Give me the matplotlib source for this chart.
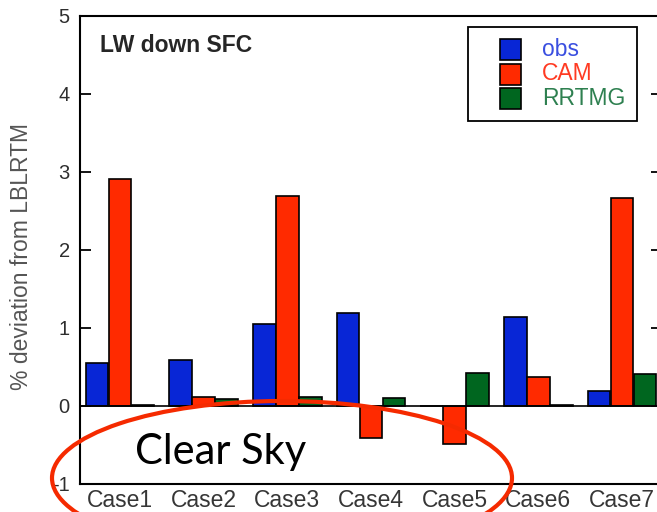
import matplotlib
matplotlib.use("Agg")
import matplotlib.pyplot as plt
from matplotlib.patches import Ellipse, Rectangle
import numpy as np

# ---- data ----
cases = ["Case1", "Case2", "Case3", "Case4", "Case5", "Case6", "Case7"]
series_names = ["obs", "CAM", "RRTMG"]
obs = [0.55, 0.58, 1.05, 1.19, 0.0, 1.14, 0.18]
cam = [2.91, 0.11, 2.69, -0.42, -0.49, 0.36, 2.66]
rrtmg = [0.01, 0.08, 0.11, 0.10, 0.42, 0.01, 0.40]
yticks = [-1, 0, 1, 2, 3, 4, 5]
ylabel = "% deviation from LBLRTM"
title = "LW down SFC"
note = "Clear Sky"

bar_colors = ["#0826d6", "#ff2a00", "#00661f"]
text_colors = ["#3a4fe0", "#ff3a22", "#2e8050"]

W, H = 657, 512
fig = plt.figure(figsize=(W / 100, H / 100), dpi=100)

def fx(px):
    return px / W

def fy(py):
    return 1 - py / H

ax_l, ax_r, ax_t, ax_b = 79.5, 662.0, 15.5, 483.5
ax = fig.add_axes([fx(ax_l), fy(ax_b), (ax_r - ax_l) / W, (ax_b - ax_t) / H])

x = np.arange(1, len(cases) + 1)
width = 0.27
offs = [-0.275, 0.0, 0.275]
for vals, off, col in zip([obs, cam, rrtmg], offs, bar_colors):
    ax.bar(x + off, vals, width=width, color=col, edgecolor="black", linewidth=1.2, zorder=2)

ax.axhline(0, color="black", linewidth=1.2, zorder=3)
ax.set_xlim(0.516, 7.478)
ax.set_ylim(-1, 5)
ax.set_yticks(yticks)
ax.set_yticklabels([str(t) for t in yticks])
ax.set_xticks(x)
ax.set_xticklabels(cases)

for s in ax.spines.values():
    s.set_linewidth(1.5)
    s.set_color("black")

ax.tick_params(axis="y", which="both", direction="in", length=8, width=1.3,
               left=True, right=True, labelsize=14.5, labelcolor="#2e2e2e", pad=7)
ax.tick_params(axis="x", length=0, labelsize=16.5, labelcolor="#363636", pad=4)
for lab in ax.get_xticklabels() + ax.get_yticklabels():
    lab.set_fontfamily("Liberation Sans")

fig.text(fx(22), fy(256), ylabel, rotation=90, ha="center", va="center",
         fontsize=16.5, color="#555555", family="Liberation Sans")

fig.text(fx(100), fy(52), title, ha="left", va="baseline", fontsize=16.5,
         fontweight="bold", color="#262626", family="Liberation Sans")

# legend (manual)
fig.add_artist(Rectangle((fx(468), fy(121)), (637 - 468) / W, (121 - 27) / H,
                         transform=fig.transFigure, facecolor="white",
                         edgecolor="black", linewidth=1.3, zorder=5))
row_tops = [39, 63.5, 88]
for name, bc, tc, top in zip(series_names, bar_colors, text_colors, row_tops):
    fig.add_artist(Rectangle((fx(500), fy(top + 21)), 21 / W, 21 / H,
                             transform=fig.transFigure, facecolor=bc,
                             edgecolor="black", linewidth=1.2, zorder=6))
    fig.text(fx(542), fy(top + 10.5), name, ha="left", va="center", fontsize=16.5,
             color=tc, family="Liberation Sans", zorder=7)

# annotation
fig.add_artist(Ellipse((fx(282), fy(478)), 460 / W, 154 / H, transform=fig.transFigure,
                       fill=False, edgecolor="#f52a00", linewidth=3.0, zorder=10))
fig.text(fx(135), fy(464), note, ha="left", va="baseline", fontsize=30,
         color="black", family="Lato", zorder=11)

fig.savefig("out.png", dpi=100)
